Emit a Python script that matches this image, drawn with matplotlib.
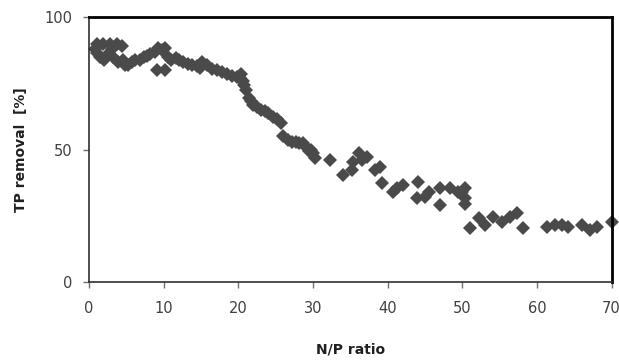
import matplotlib
matplotlib.use('Agg')
import matplotlib.pyplot as plt

plt.rcParams.update({'font.size': 10, 'font.family': 'DejaVu Sans'})

# N/P ratio and TP removal [%]
np_ratio = [1.0, 1.9, 2.8, 3.7, 4.4,
            0.8, 1.0, 1.5, 2.0, 2.5, 3.0, 3.2, 3.9, 4.5, 4.8, 5.2, 5.8, 6.2, 6.8, 7.3, 7.8, 8.2, 8.8,
            9.2, 9.7, 10.2, 10.6, 11.0, 11.6, 12.0, 12.6, 13.2, 13.8, 14.4, 14.9,
            9.1, 10.2,
            15.1, 15.8, 16.5, 17.1, 17.8, 18.5, 19.2, 19.8, 20.2, 20.4, 20.6, 20.8,
            21.0, 21.4, 21.7, 22.0, 22.5, 23.0, 23.5, 24.0, 24.7, 25.2, 25.7,
            26.0, 26.7, 27.2, 27.7, 28.1, 28.6, 29.1, 29.5, 29.7, 30.0, 30.3,
            32.3,
            34.0, 35.2, 35.4, 36.1, 36.5, 37.2, 38.3, 39.0, 39.2,
            40.7, 41.2, 42.0, 44.0, 43.9, 45.0, 45.6, 47.0, 47.0, 48.3, 49.4,
            50.0, 50.3, 50.3, 50.3,
            51.0, 52.3, 53.0, 54.1, 55.3, 56.4, 57.3, 58.1,
            61.3, 62.4, 63.3, 64.1, 66.1, 67.1, 68.0, 70.0]
tp_removal = [90, 90, 90, 90, 89,
              88, 86.5, 85, 84, 86, 88, 85, 83, 84, 82, 82, 83, 84, 84, 85, 85.5, 86, 87,
              88.5, 87.5, 88.5, 85, 84, 84.5, 84, 83, 82.5, 82, 81.5, 81,
              80, 80,
              83, 82, 80.5, 80, 79.5, 78.5, 78, 77.5, 77, 78.5, 76, 74.5,
              72.5, 69.5, 68.5, 67, 66, 65, 64.5, 64, 62.5, 61.5, 60,
              55, 53.5, 53, 53, 52.5, 52.5, 51, 49.5, 50, 48.7, 47,
              46,
              40.5, 42.3, 45.5, 48.6, 46, 47.3, 42.4, 43.6, 37.3,
              34, 35.4, 36.6, 37.9, 31.6, 32, 34, 29, 35.5, 35.5, 34,
              34, 35.5, 31.6, 29.5,
              20.4, 24.2, 21.5, 24.6, 22.7, 24.6, 26.1, 20.4,
              20.8, 21.5, 21.5, 20.8, 21.5, 19.7, 20.8, 22.7]

fig = plt.figure(figsize=(6.19, 3.61), dpi=100)
ax = fig.add_axes([0.144, 0.219, 0.844, 0.733])

ax.plot(np_ratio, tp_removal, 'D', color='#4a4a4a', markersize=7.5, markeredgewidth=0, clip_on=False)

ax.set_xlim(0, 70)
ax.set_ylim(0, 100)
ax.set_xticks(range(0, 71, 10))
ax.set_yticks([0, 50, 100])

for s in ['top', 'right']:
    ax.spines[s].set_linewidth(2)
    ax.spines[s].set_color('black')
for s in ['left', 'bottom']:
    ax.spines[s].set_linewidth(1.2)
    ax.spines[s].set_color('#303030')

ax.tick_params(direction='out', length=4, width=1, color='#707070', labelcolor='#404040', labelsize=10.5)
ax.tick_params(axis='x', pad=10)
ax.tick_params(axis='y', pad=8)

ax.set_xlabel('N/P ratio', fontweight='bold', fontsize=10, labelpad=19, color='#202020')
ax.set_ylabel('TP removal  [%]', fontweight='bold', fontsize=10, labelpad=12, color='#202020')

fig.savefig('out.png', dpi=100)
